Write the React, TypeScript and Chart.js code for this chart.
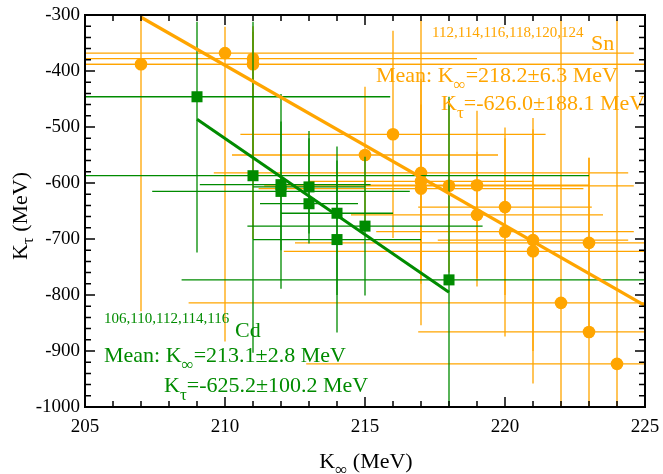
import React, { useEffect, useRef } from 'react';
import { Chart, registerables } from 'chart.js';

Chart.register(...registerables);

// ---------- axis ranges / ticks ----------
const X_MIN = 205;
const X_MAX = 225;
const Y_MIN = -1000;
const Y_MAX = -300;
const xTickLabels = [205, 210, 215, 220, 225];
const yTickLabels = [-1000, -900, -800, -700, -600, -500, -400, -300];

// ---------- Sn data (orange circles) ----------
const snK = [207, 210, 211, 211, 215, 216, 217, 217, 217, 218, 219, 219, 220, 220, 221, 221, 222, 223, 223, 224];
const snTau = [-388, -368, -378, -388, -550, -513, -582, -597, -610, -605, -604, -657, -643, -687, -702, -722, -814, -707, -866, -923];
const snKLo = [187, 195.4, 203, 197, 210.25, 210.55, 209.6, 213, 211.2, 211.4, 215, 214.5, 216.9, 215.4, 217.6, 212.1, 208.7, 212.5, 216.9, 212.9];
const snKHi = [227, 224.6, 219, 225, 219.75, 221.45, 224.4, 221, 222.8, 224.6, 223, 223.5, 223.1, 224.6, 224.4, 229.9, 235.3, 233.5, 229.1, 235.1];
const snTauLo = [-829, -883, -560, -700, -672, -698, -854, -780, -760, -760, -785, -770, -800, -874, -900, -958, -1318, -859, -1177, -1536];
const snTauHi = [53, -321, -320, -330, -428, -328, -310, -414, -460, -450, -471, -544, -520, -501, -504, -484, -310, -555, -555, -310];

// ---------- Cd data (green squares) ----------
const cdK = [209, 211, 212, 212, 213, 213, 214, 214, 215, 218];
const cdTau = [-446, -587, -603, -615, -607, -637, -654, -701, -677, -773];
const cdKLo = [202.1, 199, 209.1, 207.4, 211, 211.25, 212, 211, 210.8, 208.45];
const cdKHi = [215.9, 223, 215.2, 216.6, 215, 214.75, 216, 217, 219.2, 227.55];
const cdTauLo = [-724, -903, -720, -789, -690, -708, -800, -867, -801, -1100];
const cdTauHi = [-312, -312, -490, -441, -520, -507, -560, -535, -553, -446];

// ---------- fit lines ----------
const snFitK = [207, 225];
const snFitTau = [-304, -819];
const cdFitK = [209, 218];
const cdFitTau = [-486, -795];

// ---------- texts ----------
const snMass = '112,114,116,118,120,124';
const snName = 'Sn';
const snMeanK = '=218.2±6.3 MeV';
const snMeanTau = '=-626.0±188.1 MeV';
const cdMass = '106,110,112,114,116';
const cdName = 'Cd';
const cdMeanK = '=213.1±2.8 MeV';
const cdMeanTau = '=-625.2±100.2 MeV';

const ORANGE = '#FFA500';
const GREEN = '#008B00';
const FONT = '"Liberation Serif", "Times New Roman", serif';

type Part = [string, number, number];

function drawRich(ctx: CanvasRenderingContext2D, x: number, y: number, parts: Part[]) {
  let cx = x;
  for (const [t, size, dy] of parts) {
    ctx.font = `${size}px ${FONT}`;
    ctx.fillText(t, cx, y + dy);
    cx += ctx.measureText(t).width;
  }
}

function richWidth(ctx: CanvasRenderingContext2D, parts: Part[]) {
  let w = 0;
  for (const [t, size] of parts) {
    ctx.font = `${size}px ${FONT}`;
    w += ctx.measureText(t).width;
  }
  return w;
}

const errorBarPlugin = {
  id: 'errorBars',
  beforeDatasetDraw(chart: any, args: any) {
    const ds = chart.data.datasets[args.index];
    if (!ds.errBars) return;
    const { ctx, chartArea: a, scales } = chart;
    const x = scales.x;
    const y = scales.y;
    ctx.save();
    ctx.beginPath();
    ctx.rect(a.left, a.top, a.right - a.left, a.bottom - a.top);
    ctx.clip();
    ctx.strokeStyle = ds.errColor;
    ctx.lineWidth = 1.3;
    ds.data.forEach((p: any, i: number) => {
      const e = ds.errBars[i];
      const px = x.getPixelForValue(p.x);
      const py = y.getPixelForValue(p.y);
      ctx.beginPath();
      ctx.moveTo(x.getPixelForValue(e.xl), py);
      ctx.lineTo(x.getPixelForValue(e.xh), py);
      ctx.moveTo(px, y.getPixelForValue(e.yl));
      ctx.lineTo(px, y.getPixelForValue(e.yh));
      ctx.stroke();
    });
    ctx.restore();
  },
};

const textPlugin = {
  id: 'annotTexts',
  afterDatasetsDraw(chart: any) {
    const ctx: CanvasRenderingContext2D = chart.ctx;
    ctx.save();
    ctx.textAlign = 'left';
    ctx.textBaseline = 'alphabetic';
    // Sn block
    ctx.fillStyle = ORANGE;
    drawRich(ctx, 432, 37, [[snMass, 15, 0]]);
    drawRich(ctx, 591, 50, [[snName, 22, 0]]);
    drawRich(ctx, 376, 82, [['Mean: K', 22, 0], ['∞', 17, 8], [snMeanK, 22, 0]]);
    drawRich(ctx, 441, 110, [['K', 22, 0], ['τ', 17, 8], [snMeanTau, 22, 0]]);
    // Cd block
    ctx.fillStyle = GREEN;
    drawRich(ctx, 104, 323, [[cdMass, 15, 0]]);
    drawRich(ctx, 235, 337, [[cdName, 22, 0]]);
    drawRich(ctx, 104, 362, [['Mean: K', 22, 0], ['∞', 17, 8], [cdMeanK, 22, 0]]);
    drawRich(ctx, 164, 392, [['K', 22, 0], ['τ', 17, 8], [cdMeanTau, 22, 0]]);
    ctx.restore();
  },
};

const framePlugin = {
  id: 'frameAxes',
  afterDraw(chart: any) {
    const { ctx, chartArea: a, scales } = chart;
    const x = scales.x;
    const y = scales.y;
    ctx.save();
    ctx.strokeStyle = '#000';
    ctx.lineWidth = 1.5;
    ctx.beginPath();
    for (let v = X_MIN; v <= X_MAX; v += 1) {
      const px = x.getPixelForValue(v);
      const len = v % 5 === 0 ? 10 : 6;
      ctx.moveTo(px, a.bottom);
      ctx.lineTo(px, a.bottom - len);
      ctx.moveTo(px, a.top);
      ctx.lineTo(px, a.top + len);
    }
    for (let v = Y_MIN; v <= Y_MAX; v += 20) {
      const py = y.getPixelForValue(v);
      const len = v % 100 === 0 ? 10 : 6;
      ctx.moveTo(a.left, py);
      ctx.lineTo(a.left + len, py);
      ctx.moveTo(a.right, py);
      ctx.lineTo(a.right - len, py);
    }
    ctx.stroke();
    ctx.lineWidth = 2;
    ctx.strokeRect(a.left, a.top, a.right - a.left, a.bottom - a.top);

    // tick labels
    ctx.fillStyle = '#000';
    ctx.font = `19px ${FONT}`;
    ctx.textAlign = 'center';
    ctx.textBaseline = 'alphabetic';
    xTickLabels.forEach((v) => ctx.fillText(String(v), x.getPixelForValue(v), a.bottom + 25));
    ctx.textAlign = 'right';
    ctx.textBaseline = 'middle';
    yTickLabels.forEach((v) => ctx.fillText(String(v), a.left - 5, y.getPixelForValue(v)));

    // axis titles
    ctx.textAlign = 'left';
    ctx.textBaseline = 'alphabetic';
    const xt: Part[] = [['K', 22, 0], ['∞', 17, 7], [' (MeV)', 22, 0]];
    const xw = richWidth(ctx, xt);
    drawRich(ctx, (a.left + a.right) / 2 - xw / 2 + 1, 468, xt);
    const yt: Part[] = [['K', 22, 0], ['τ', 17, 6], [' (MeV)', 22, 0]];
    const yw = richWidth(ctx, yt);
    ctx.translate(27, 216);
    ctx.rotate(-Math.PI / 2);
    drawRich(ctx, -yw / 2, 0, yt);
    ctx.restore();
  },
};

function pts(xs: number[], ys: number[]) {
  return xs.map((v, i) => ({ x: v, y: ys[i] }));
}

function bars(xl: number[], xh: number[], yl: number[], yh: number[]) {
  return xl.map((v, i) => ({ xl: v, xh: xh[i], yl: yl[i], yh: yh[i] }));
}

export default function App() {
  const ref = useRef<HTMLCanvasElement | null>(null);

  useEffect(() => {
    document.body.style.margin = '0';
    const canvas = ref.current;
    if (!canvas) return;
    const chart = new Chart(canvas, {
      type: 'scatter',
      data: {
        datasets: [
          {
            label: 'Cd fit',
            data: pts(cdFitK, cdFitTau),
            showLine: true,
            borderColor: GREEN,
            borderWidth: 3,
            pointRadius: 0,
          } as any,
          {
            label: 'Sn fit',
            data: pts(snFitK, snFitTau),
            showLine: true,
            borderColor: ORANGE,
            borderWidth: 3.2,
            pointRadius: 0,
          } as any,
          {
            label: 'Cd',
            data: pts(cdK, cdTau),
            pointStyle: 'rect',
            pointRadius: 7.8,
            pointBackgroundColor: GREEN,
            pointBorderWidth: 0,
            errBars: bars(cdKLo, cdKHi, cdTauLo, cdTauHi),
            errColor: GREEN,
          } as any,
          {
            label: 'Sn',
            data: pts(snK, snTau),
            pointStyle: 'circle',
            pointRadius: 6.3,
            pointBackgroundColor: ORANGE,
            pointBorderWidth: 0,
            errBars: bars(snKLo, snKHi, snTauLo, snTauHi),
            errColor: ORANGE,
          } as any,
        ],
      },
      options: {
        animation: false,
        responsive: false,
        maintainAspectRatio: false,
        events: [],
        layout: { padding: { left: 85, right: 18, top: 15, bottom: 67 } },
        scales: {
          x: { type: 'linear', min: X_MIN, max: X_MAX, display: false },
          y: { type: 'linear', min: Y_MIN, max: Y_MAX, display: false },
        },
        plugins: {
          legend: { display: false },
          tooltip: { enabled: false },
          title: { display: false },
        },
      },
      plugins: [errorBarPlugin, textPlugin, framePlugin],
    });
    return () => chart.destroy();
  }, []);

  return (
    <div style={{ position: 'fixed', left: 0, top: 0, width: 663, height: 474, background: '#fff' }}>
      <canvas ref={ref} width={663} height={474} style={{ display: 'block', width: 663, height: 474 }} />
    </div>
  );
}
